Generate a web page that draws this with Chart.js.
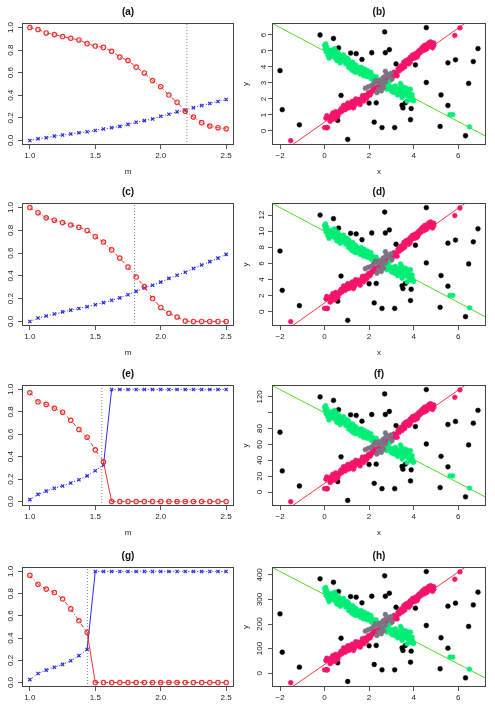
<!DOCTYPE html>
<html>
<head>
<meta charset="utf-8">
<script src="https://cdn.jsdelivr.net/npm/chart.js@4.4.0/dist/chart.umd.min.js"></script>
<style>
  html, body { margin: 0; padding: 0; background: #fff; }
  body { width: 495px; height: 716px; overflow: hidden; position: relative; }
  canvas { position: absolute; }
</style>
</head>
<body>
<script>
// ---- line panels (a), (c), (e), (g) ----
const mValues = [1.0, 1.0625, 1.125, 1.1875, 1.25, 1.3125, 1.375, 1.4375, 1.5, 1.5625, 1.625, 1.6875, 1.75,
  1.8125, 1.875, 1.9375, 2.0, 2.0625, 2.125, 2.1875, 2.25, 2.3125, 2.375, 2.4375, 2.5];

const redA = [1.0, 0.982, 0.952, 0.938, 0.92, 0.905, 0.89, 0.857, 0.836, 0.824, 0.79, 0.738, 0.708,
  0.649, 0.598, 0.53, 0.476, 0.402, 0.339, 0.259, 0.208, 0.158, 0.128, 0.113, 0.104];
const blueA = [0.0, 0.015, 0.024, 0.039, 0.048, 0.057, 0.068, 0.077, 0.089, 0.101, 0.113, 0.125, 0.143,
  0.161, 0.176, 0.19, 0.214, 0.232, 0.253, 0.27, 0.29, 0.31, 0.327, 0.345, 0.363];

const redC = [1.0, 0.955, 0.91, 0.889, 0.868, 0.847, 0.826, 0.799, 0.745, 0.697, 0.628, 0.556, 0.477,
  0.39, 0.306, 0.201, 0.123, 0.072, 0.039, 0.003, 0, 0, 0, 0, 0];
const blueC = [0.0, 0.03, 0.048, 0.066, 0.084, 0.099, 0.114, 0.129, 0.147, 0.165, 0.186, 0.207, 0.234,
  0.264, 0.294, 0.318, 0.345, 0.378, 0.405, 0.432, 0.465, 0.495, 0.525, 0.556, 0.589];

const redE = [0.971, 0.89, 0.867, 0.832, 0.797, 0.725, 0.643, 0.574, 0.461, 0.354, 0, 0, 0,
  0, 0, 0, 0, 0, 0, 0, 0, 0, 0, 0, 0];
const blueE = [0.017, 0.064, 0.093, 0.119, 0.139, 0.165, 0.194, 0.229, 0.275, 0.325, 1, 1, 1,
  1, 1, 1, 1, 1, 1, 1, 1, 1, 1, 1, 1];

const redG = [0.965, 0.885, 0.841, 0.81, 0.752, 0.663, 0.556, 0.452, 0, 0, 0, 0, 0,
  0, 0, 0, 0, 0, 0, 0, 0, 0, 0, 0, 0];
const blueG = [0.026, 0.081, 0.112, 0.138, 0.164, 0.196, 0.242, 0.297, 1, 1, 1, 1, 1,
  1, 1, 1, 1, 1, 1, 1, 1, 1, 1, 1, 1];

const cutoffs = [2.2, 1.8, 1.55, 1.44];
const lineTicksX = [1.0, 1.5, 2.0, 2.5];
const lineTicksY = [0, 0.2, 0.4, 0.6, 0.8, 1.0];

// ---- scatter panels (b), (d), (f), (h): same points, y rescaled ----
const blackX = [-2.0, -1.9, -1.13, -0.2, 0.4, 0.63, 0.1, 0.59, 0.74, 1.04, 1.17, 1.42, 1.68, 2.0, 2.12, 2.23,
  2.32, 2.58, 2.7, 2.73, 2.91, 3.15, 3.21, 3.48, 3.52, 3.63, 3.89, 3.86, 4.08, 4.57, 4.57, 5.23, 5.19, 5.54,
  5.54, 5.88, 6.47, 6.68, 6.89, 6.33];
const blackY = [3.77, 1.33, 0.38, 6.0, 5.78, 5.19, 0.21, 0.66, 2.22, -0.53, 4.87, 4.83, 4.47, 1.74, 4.89, 0.55,
  1.76, 0.21, 6.19, 4.89, 5.08, 0.21, 4.19, 1.61, 1.44, 1.76, 1.4, 0.7, 4.13, 6.46, 3.03, 2.25, 0.28, 1.59,
  4.26, 4.45, 2.97, 4.34, 5.15, -0.3];

const pinkX = [-1.52, 0.0, 0.13, 0.06, 0.18, 0.3, 0.37, 0.42, 0.48, 0.33, 0.55, 0.67, 0.7, 0.78, 0.88, 0.93,
  1.0, 1.08, 1.11, 1.2, 1.26, 1.3, 1.38, 1.45, 1.53, 1.6, 1.63, 1.72, 1.75, 1.83, 1.9, 1.98, 2.05, 2.13, 2.25,
  2.32, 2.4, 2.46, 2.55, 2.61, 2.7, 2.77, 2.85, 2.95, 3.03, 3.12, 3.21, 3.26, 3.3, 3.38, 3.45, 3.48, 3.56,
  3.63, 3.71, 3.78, 3.78, 3.86, 3.93, 4.0, 4.08, 4.16, 4.19, 4.26, 4.35, 4.41, 4.46, 4.5, 4.61, 4.65, 4.68,
  4.76, 4.83, 4.91, 5.85, 6.08, 1.15, 1.5, 2.2, 2.9, 3.6, 4.2, 4.55, 4.85, 0.25, 0.5, 0.85, 1.4,
  0.1, 0.45, 0.6, 0.75, 0.95, 1.05, 1.25, 1.35, 1.55, 1.7, 1.85, 1.95, 2.1, 2.3, 2.5, 2.65, 2.8, 3.0, 3.15,
  3.35, 3.5, 3.65, 3.85, 3.95, 4.05, 4.3, 4.4, 4.6, 4.7, 4.8, 4.9];
const pinkY = [-0.61, 0.21, 0.21, 0.8, 0.85, 0.95, 1.12, 0.91, 0.76, 0.7, 1.02, 1.12, 1.29, 1.23, 1.48, 1.33,
  1.65, 1.44, 1.48, 1.76, 1.61, 1.44, 1.86, 1.76, 1.97, 1.65, 1.91, 2.08, 1.86, 2.22, 2.08, 2.39, 2.25, 2.5, 2.54,
  2.71, 2.61, 2.82, 2.92, 3.03, 3.14, 3.22, 3.35, 3.45, 3.52, 3.67, 3.6, 3.45, 3.88, 3.98, 4.09, 3.88, 4.3,
  4.19, 4.41, 4.49, 4.19, 4.62, 4.51, 4.72, 4.83, 4.62, 4.94, 5.04, 5.15, 5.25, 5.04, 5.36, 5.4, 5.25, 5.51,
  5.57, 5.47, 5.34, 5.97, 6.44, 1.6, 1.9, 2.7, 3.2, 4.0, 4.75, 5.1, 5.2, 0.6, 1.2, 1.6, 2.0,
  0.95, 1.05, 0.9, 1.4, 1.45, 1.75, 1.85, 1.6, 1.75, 2.2, 2.0, 2.2, 2.4, 2.5, 3.05, 2.85, 3.05, 3.3, 3.45,
  3.75, 4.0, 4.4, 4.3, 4.75, 4.55, 4.9, 5.05, 5.15, 5.3, 5.45, 5.5];

const greenX = [0.0, 0.03, 0.1, 0.07, 0.18, 0.25, 0.15, 0.36, 0.45, 0.4, 0.51, 0.6, 0.66, 0.73, 0.81, 0.88,
  0.93, 1.0, 1.08, 1.08, 1.15, 1.2, 1.23, 1.26, 1.33, 1.38, 1.42, 1.5, 1.57, 1.6, 1.65, 1.71, 1.75, 1.78,
  1.86, 1.93, 2.0, 2.08, 2.16, 2.25, 2.32, 2.65, 2.73, 2.8, 2.85, 2.92, 2.95, 3.0, 3.03, 3.1, 3.15, 3.18,
  3.26, 3.28, 3.33, 3.41, 3.41, 3.48, 3.48, 3.53, 3.6, 3.63, 3.66, 3.71, 3.74, 3.78, 3.86, 3.86, 3.93, 3.98,
  4.0, 5.63, 5.76, 6.51, 0.55, 0.7, 0.2, 1.3, 1.9, 2.1,
  0.05, 0.12, 0.22, 0.3, 0.35, 0.5, 0.58, 0.62, 0.77, 0.85, 0.95, 1.02, 1.12, 1.18, 1.35, 1.45, 1.55, 1.68,
  1.8, 1.97, 2.05, 2.2, 2.7, 2.9, 3.05, 3.2, 3.35, 3.55, 3.7, 3.82, 3.95, 3.45, 3.75, 3.9];
const greenY = [5.36, 5.15, 5.25, 4.94, 5.04, 4.83, 4.72, 4.94, 5.15, 4.66, 4.83, 4.62, 4.79, 4.51, 4.66, 4.41,
  4.58, 4.3, 4.45, 3.98, 4.19, 4.09, 3.81, 4.3, 3.98, 3.67, 4.09, 3.88, 3.77, 3.56, 3.98, 3.73, 3.45, 3.88,
  3.67, 3.77, 3.56, 3.67, 3.45, 3.31, 3.39, 2.97, 2.82, 2.61, 2.92, 2.67, 3.14, 2.5, 2.75, 2.54, 2.39, 2.82,
  2.61, 2.25, 2.46, 2.71, 2.97, 2.39, 2.08, 2.61, 2.25, 2.71, 2.5, 1.86, 2.18, 2.39, 2.08, 2.61, 2.29, 1.93,
  1.88, 1.02, 1.02, 0.25, 4.4, 4.25, 4.55, 3.75, 3.4, 3.25,
  5.45, 5.1, 4.9, 5.05, 4.7, 4.55, 4.95, 4.4, 4.35, 4.75, 4.2, 4.55, 4.2, 3.9, 4.15, 3.7, 3.95, 3.6,
  3.55, 3.4, 3.5, 3.25, 2.7, 2.8, 2.45, 2.55, 2.3, 2.4, 2.3, 2.15, 2.05, 2.85, 2.6, 1.95];

const grayX = [1.83, 1.95, 2.08, 2.2, 2.28, 2.4, 2.47, 2.58, 2.62, 2.7, 2.73, 2.8, 2.88, 2.55, 2.35, 3.03,
  2.65, 2.98, 2.43, 2.73];
const grayY = [2.67, 2.75, 2.82, 2.97, 3.14, 3.03, 3.18, 2.92, 3.31, 3.39, 3.73, 3.56, 3.45, 2.5, 2.39, 3.24,
  2.71, 3.6, 2.63, 3.05];

const redFitX = [-2.4, 7.3];
const redFitY = [-1.80, 7.70];
const greenFitX = [-2.4, 7.3];
const greenFitY = [6.76, -0.37];

const yScales = [1, 2, 20, 64];
const scatterTicksX = [-2, 0, 2, 4, 6];
const scatterTicksY = [
  [0, 1, 2, 3, 4, 5, 6],
  [0, 2, 4, 6, 8, 10, 12],
  [0, 20, 40, 60, 80, 100, 120],
  [0, 100, 200, 300, 400]
];
const scatterTickLabelsY = [
  ['0', '1', '2', '3', '4', '5', '6'],
  ['0', '2', '4', '6', '8', '10', '12'],
  ['0', '20', '40', '60', '80', '', '120'],
  ['0', '100', '200', '300', '400']
];

const leftTitles = ['(a)', '(c)', '(e)', '(g)'];
const rightTitles = ['(b)', '(d)', '(f)', '(h)'];
const lineSeries = [[redA, blueA], [redC, blueC], [redE, blueE], [redG, blueG]];

// plot box top / bottom for each row (page pixels)
const rowBox = [[23, 145], [203, 326], [385, 506], [567, 687]];

Chart.defaults.font.family = "'Liberation Sans', Arial, sans-serif";
Chart.defaults.color = '#222';

const boxPlugin = {
  id: 'box',
  afterDraw(chart) {
    const a = chart.chartArea;
    const ctx = chart.ctx;
    ctx.save();
    ctx.strokeStyle = '#444';
    ctx.lineWidth = 1;
    ctx.strokeRect(Math.round(a.left) + 0.5, Math.round(a.top) + 0.5,
      Math.round(a.right - a.left) - 1, Math.round(a.bottom - a.top) - 1);
    ctx.restore();
  }
};

function makeCanvas(left, top, w, h) {
  const c = document.createElement('canvas');
  c.width = w;
  c.height = h;
  c.style.left = left + 'px';
  c.style.top = top + 'px';
  c.style.width = w + 'px';
  c.style.height = h + 'px';
  document.body.appendChild(c);
  return c;
}

function axis(cfg) {
  return {
    type: 'linear',
    min: cfg.min,
    max: cfg.max,
    afterBuildTicks: (s) => { s.ticks = cfg.ticks.map((v) => ({ value: v })); },
    afterFit: (s) => {
      if (cfg.width !== undefined) s.width = cfg.width;
      if (cfg.height !== undefined) s.height = cfg.height;
    },
    grid: { drawOnChartArea: false, tickLength: 4, color: '#555', tickWidth: 1 },
    border: { display: false },
    ticks: {
      autoSkip: false,
      padding: 2,
      font: { size: 8 },
      color: '#222',
      minRotation: cfg.rot,
      maxRotation: cfg.rot,
      crossAlign: cfg.rot ? 'center' : 'near',
      callback: cfg.label
    },
    title: {
      display: !!cfg.title,
      text: cfg.title || '',
      font: { size: 8 },
      color: '#222',
      padding: cfg.titlePad || { top: 0, bottom: 0 }
    }
  };
}

function baseOptions(title, padRight, xAxis, yAxis) {
  return {
    responsive: false,
    animation: false,
    events: [],
    layout: { padding: { left: 0, right: padRight, top: 0, bottom: 0 } },
    plugins: {
      legend: { display: false },
      tooltip: { enabled: false },
      title: {
        display: true,
        text: title,
        fullSize: false,
        color: '#111',
        font: { size: 10, weight: 'bold' },
        padding: { top: 6, bottom: 5 }
      }
    },
    scales: { x: xAxis, y: yAxis }
  };
}

function fmtMinus(v) {
  return v < 0 ? '\u2212' + Math.abs(v) : String(v);
}

rowBox.forEach(([top, bottom], r) => {
  const boxH = bottom - top;
  const h = 23 + boxH + 34;
  const lastRow = r === rowBox.length - 1;

  // left: line panel
  const [red, blue] = lineSeries[r];
  const cut = cutoffs[r];
  const jump = (c) => (Math.abs(c.p1.parsed.y - c.p0.parsed.y) > 0.25 ? [] : undefined);
  new Chart(makeCanvas(0, top - 23, 245, h), {
    type: 'scatter',
    data: {
      datasets: [
        {
          data: mValues.map((m, i) => ({ x: m, y: red[i] })),
          showLine: true,
          borderColor: '#ee3030',
          borderWidth: 1,
          borderDash: [4, 2, 1, 2],
          segment: { borderDash: jump },
          pointStyle: 'circle',
          pointRadius: 2.2,
          pointBorderWidth: 1.2,
          pointBorderColor: '#ee3030',
          pointBackgroundColor: 'rgba(0,0,0,0)'
        },
        {
          data: mValues.map((m, i) => ({ x: m, y: blue[i] })),
          showLine: true,
          borderColor: '#2a2ae0',
          borderWidth: 1,
          borderDash: [1, 2],
          segment: { borderDash: jump },
          pointStyle: 'crossRot',
          pointRadius: 2.3,
          pointBorderWidth: 1.2,
          pointBorderColor: '#2a2ae0'
        },
        {
          data: [{ x: cut, y: -0.04 }, { x: cut, y: 1.04 }],
          showLine: true,
          borderColor: '#888',
          borderWidth: 1,
          borderDash: [1, 2],
          pointRadius: 0
        }
      ]
    },
    options: baseOptions(leftTitles[r], 11,
      axis({ min: 0.94, max: 2.56, ticks: lineTicksX, height: 34, rot: 0,
        label: (v) => v.toFixed(1), title: lastRow ? '' : 'm', titlePad: { top: 0, bottom: 2 } }),
      axis({ min: -0.04, max: 1.04, ticks: lineTicksY, width: 22, rot: 90,
        label: (v) => v.toFixed(1) })),
    plugins: [boxPlugin]
  });

  // right: scatter panel
  const s = yScales[r];
  const pts = (xs, ys) => xs.map((x, i) => ({ x: x, y: ys[i] * s }));
  const dot = (color) => ({
    pointStyle: 'circle', pointRadius: 2.4, pointBorderWidth: 0.5,
    pointBackgroundColor: color, pointBorderColor: color, showLine: false
  });
  const yt = scatterTicksY[r];
  const yl = scatterTickLabelsY[r];
  new Chart(makeCanvas(238, top - 23, 257, h), {
    type: 'scatter',
    data: {
      datasets: [
        Object.assign({ data: pts(grayX, grayY) }, dot('#7d7383')),
        Object.assign({ data: pts(greenX, greenY) }, dot('#00ee76')),
        Object.assign({ data: pts(pinkX, pinkY) }, dot('#f5146b')),
        Object.assign({ data: pts(blackX, blackY) }, dot('#000000')),
        { data: pts(redFitX, redFitY), showLine: true, borderColor: '#ee3b3b', borderWidth: 1, pointRadius: 0 },
        { data: pts(greenFitX, greenFitY), showLine: true, borderColor: '#4ddd22', borderWidth: 1, pointRadius: 0 }
      ]
    },
    options: baseOptions(rightTitles[r], 9,
      axis({ min: -2.36, max: 7.25, ticks: scatterTicksX, height: 34, rot: 0,
        label: fmtMinus, title: lastRow ? '' : 'x', titlePad: { top: 0, bottom: 2 } }),
      axis({ min: -0.88 * s, max: 6.75 * s, ticks: yt, width: 34, rot: 90,
        label: (v) => yl[yt.indexOf(v)], title: 'y', titlePad: { top: 3, bottom: 0 } })),
    plugins: [boxPlugin]
  });
});
</script>
</body>
</html>
